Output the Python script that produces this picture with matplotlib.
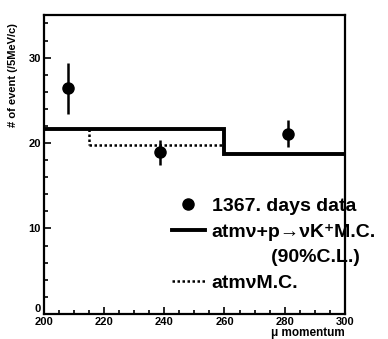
import matplotlib
matplotlib.use("Agg")
import matplotlib.pyplot as plt
from matplotlib.lines import Line2D
from matplotlib.ticker import MultipleLocator, FuncFormatter

plt.rcParams['font.family'] = ['Liberation Sans', 'DejaVu Sans']
plt.rcParams['font.weight'] = 'bold'

# data points (1367 days)
dataX = [208, 238.5, 281]
dataY = [26.4, 18.9, 21.1]
dataErrLow = [3.0, 1.5, 1.6]
dataErrHigh = [3.0, 1.5, 1.6]

# atm nu + p -> nu K+ M.C. (90% C.L.) histogram
kEdges = [200, 260, 300]
kValues = [21.6, 18.7]

# atm nu M.C. histogram
atmEdges = [215, 260]
atmValues = [19.8]
atmStart = 21.6

fig = plt.figure(figsize=(3.88, 3.39), dpi=100)
ax = fig.add_axes([0.113, 0.074, 0.776, 0.882])

# solid histogram
ax.stairs(kValues, kEdges, color='black', linewidth=2.8, baseline=None)

# dotted histogram, drops from the solid level at its left edge
ax.plot([atmEdges[0], atmEdges[0]], [atmStart, atmValues[0]], color='black',
        linestyle=(0, (1, 1)), linewidth=1.8)
ax.stairs(atmValues, atmEdges, color='black', linestyle=(0, (1, 1)),
          linewidth=1.8, baseline=None)

# data with errors
ax.errorbar(dataX, dataY, yerr=[dataErrLow, dataErrHigh], fmt='o', color='black',
            markersize=8, elinewidth=1.8, capsize=0)

ax.set_xlim(200, 300)
ax.set_ylim(0, 35)
ax.xaxis.set_major_locator(MultipleLocator(20))
ax.xaxis.set_minor_locator(MultipleLocator(5))
ax.yaxis.set_major_locator(MultipleLocator(10))
ax.yaxis.set_minor_locator(MultipleLocator(2))
# the "0" is drawn separately, just above the x tick labels as in the scan
ax.yaxis.set_major_formatter(FuncFormatter(lambda v, p: '' if v == 0 else f'{v:.0f}'))
ax.tick_params(which='both', direction='in', top=False, right=False,
               labelsize=8, width=1.2)
ax.tick_params(which='major', length=5, pad=2)
ax.tick_params(which='minor', length=3)
for s in ax.spines.values():
    s.set_linewidth(1.6)
ax.annotate('0', xy=(0, 0), xycoords='axes fraction', xytext=(-2, 0),
            textcoords='offset points', ha='right', va='bottom', fontsize=8,
            fontweight='bold')

ax.set_ylabel('# of event (/5MeV/c)', fontsize=8, fontweight='bold')
ax.yaxis.set_label_coords(-0.085, 0.8)
ax.set_xlabel('\u03bc momentum', fontsize=8.5, fontweight='bold', loc='right',
              labelpad=0)

handles = [
    Line2D([], [], marker='o', color='black', linestyle='none', markersize=8),
    Line2D([], [], color='black', linewidth=2.8),
    Line2D([], [], color='none'),
    Line2D([], [], color='black', linestyle=(0, (1, 1)), linewidth=1.8),
]
labels = ['1367. days data', 'atm\u03bd+p\u2192\u03bdK\u207aM.C.',
          '           (90%C.L.)', 'atm\u03bdM.C.']
ax.legend(handles, labels, loc='upper left', bbox_to_anchor=(0.425, 0.39),
          frameon=False, fontsize=14, handlelength=1.7, handletextpad=0.36,
          labelspacing=0.42, borderaxespad=0, borderpad=0)

fig.savefig('out.png', dpi=100)
